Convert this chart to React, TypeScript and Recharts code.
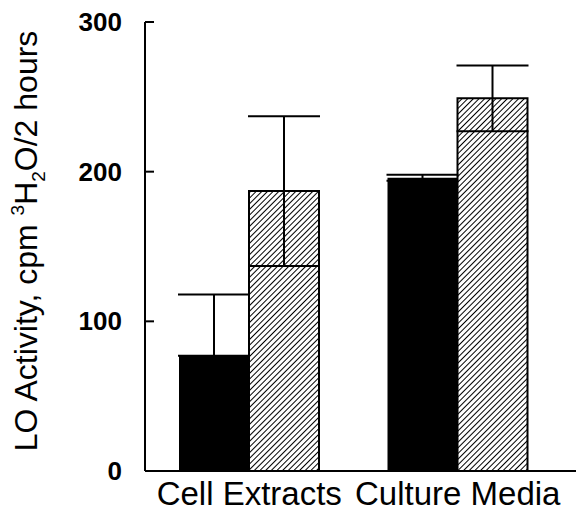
import { BarChart, Bar, XAxis, YAxis, ErrorBar, Label } from 'recharts'

const categories = ['Cell Extracts', 'Culture Media']
const solidValues = [77, 196]
// [below, above] error extents
const solidErrors = [[0, 41], [2, 2]]
const hatchedValues = [187, 249]
const hatchedErrors = [[50, 50], [22, 22]]
const yTicks = [0, 100, 200, 300]

const data = categories.map((name, i) => ({
  name,
  solid: solidValues[i],
  solidErr: solidErrors[i],
  hatched: hatchedValues[i],
  hatchedErr: hatchedErrors[i],
}))

const font = '"Liberation Sans", Arial, Helvetica, sans-serif'

const YTick = ({ x, y, payload }: any) => (
  <g>
    <line x1={x + 23} x2={x + 32} y1={y} y2={y} stroke="#000" strokeWidth={2} />
    <text x={x} y={y} dy={9} textAnchor="end" fontSize={26} fontWeight="bold" fontFamily={font} fill="#000">
      {payload.value}
    </text>
  </g>
)

const YLabel = () => (
  <text transform="translate(37,241) rotate(-90)" textAnchor="middle" fontSize={32} fontFamily={font} fill="#000">
    LO Activity, cpm{' '}
    <tspan dy={-13} fontSize={19}>3</tspan>
    <tspan dy={13}>H</tspan>
    <tspan dy={8} fontSize={19}>2</tspan>
    <tspan dy={-8}>O/2 hours</tspan>
  </text>
)

export default function App() {
  return (
    <div style={{ position: 'absolute', left: 0, top: 0, background: '#fff' }}>
      <BarChart
        width={584}
        height={514}
        data={data}
        margin={{ top: 22, right: 8, left: 0, bottom: 0 }}
        barGap={0}
        barSize={70}
      >
        <defs>
          <pattern id="hatch" width={4} height={4} patternUnits="userSpaceOnUse" patternTransform="rotate(45)">
            <rect width={4} height={4} fill="#fff" />
            <line x1={0} y1={0} x2={0} y2={4} stroke="#000" strokeWidth={2} />
          </pattern>
        </defs>
        <XAxis
          dataKey="name"
          height={43}
          padding={{ left: 0, right: 14 }}
          axisLine={{ stroke: '#000', strokeWidth: 2 }}
          tickLine={false}
          tickSize={0}
          tickMargin={11}
          tick={{ fontSize: 33, fill: '#000', fontFamily: font }}
          interval={0}
        />
        <YAxis
          width={145}
          domain={[0, 300]}
          ticks={yTicks}
          axisLine={{ stroke: '#000', strokeWidth: 2 }}
          tickLine={false}
          tickSize={0}
          tickMargin={23}
          tick={<YTick />}
        >
          <Label content={<YLabel />} />
        </YAxis>
        <Bar dataKey="solid" fill="#000" isAnimationActive={false}>
          <ErrorBar dataKey="solidErr" width={36} stroke="#000" strokeWidth={2} />
        </Bar>
        <Bar dataKey="hatched" fill="url(#hatch)" stroke="#000" strokeWidth={2} isAnimationActive={false}>
          <ErrorBar dataKey="hatchedErr" width={36} stroke="#000" strokeWidth={2} />
        </Bar>
      </BarChart>
    </div>
  )
}
